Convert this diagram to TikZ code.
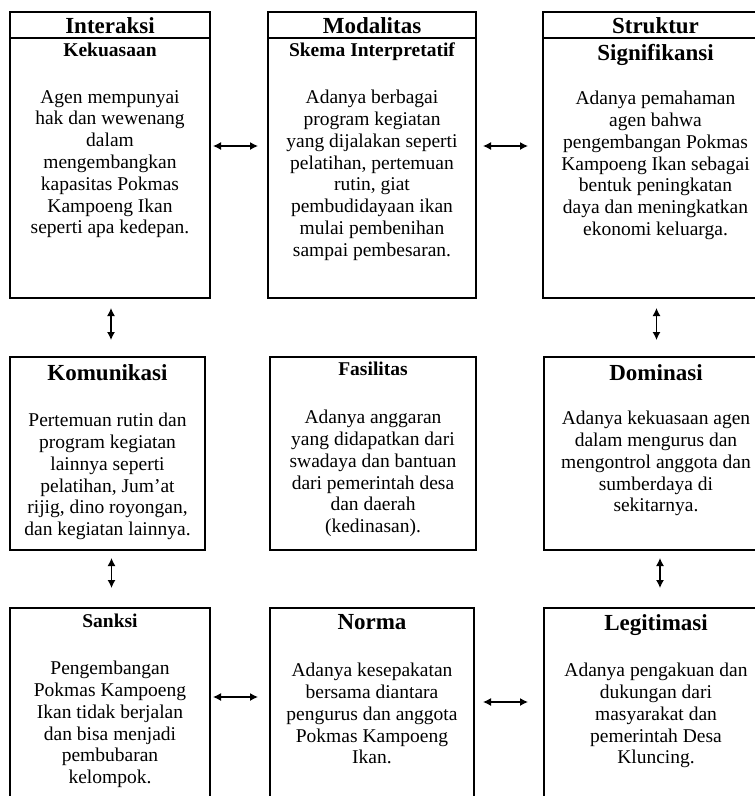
\documentclass[tikz,border=0pt]{standalone}
\usepackage{fontspec}
\setmainfont{Liberation Serif}
\usetikzlibrary{positioning,arrows.meta}

\begin{document}
\begin{tikzpicture}[x=1pt,y=-1pt,
    box/.style={draw, line width=1.3pt, outer sep=0, inner sep=0, anchor=north west},
    big/.style={font=\bfseries\fontsize{23}{26}\selectfont, inner sep=0},
    small/.style={font=\bfseries\fontsize{19.5}{22}\selectfont, inner sep=0},
    isi/.style={align=center, inner sep=0, font=\fontsize{19.5}{21.8}\selectfont},
    link/.style={{Latex[length=8pt,width=8pt]}-{Latex[length=8pt,width=8pt]}, line width=1.3pt}
  ]
  \clip (0,0) rectangle (755,796);
  % boxes
  \node[box, minimum width=200pt, minimum height=286pt] (a1) at (10,12) {};
  \node[box, minimum width=208pt, minimum height=286pt] (b1) at (268,12) {};
  \node[box, minimum width=225pt, minimum height=286pt] (c1) at (543,12) {};
  \node[box, minimum width=195pt, minimum height=193pt] (a2) at (10,357) {};
  \node[box, minimum width=206pt, minimum height=193pt] (b2) at (270,357) {};
  \node[box, minimum width=224pt, minimum height=193pt] (c2) at (544,357) {};
  \node[box, minimum width=200pt, minimum height=222pt] (a3) at (10,608) {};
  \node[box, minimum width=204pt, minimum height=222pt] (b3) at (270,608) {};
  \node[box, minimum width=224pt, minimum height=222pt] (c3) at (544,608) {};
  \foreach \b in {a1,b1,c1}
    \draw[line width=1.3pt] ([yshift=-26pt]\b.north west) -- ([yshift=-26pt]\b.north east);

  % row 1
  \node[big, below=5pt of a1.north] (a1h) {Interaksi};
  \node[big, below=5pt of b1.north] (b1h) {Modalitas};
  \node[big, below=5pt of c1.north] (c1h) {Struktur};
  \node[small, below=31pt of a1.north] (a1t) {Kekuasaan};
  \node[small, below=31pt of b1.north] (b1t) {Skema Interpretatif};
  \node[big, below=32pt of c1.north] (c1t) {Signifikansi};
  \node[isi, below=78pt of a1.north] (a1x) {Agen mempunyai\\hak dan wewenang\\dalam\\mengembangkan\\kapasitas Pokmas\\Kampoeng Ikan\\seperti apa kedepan.};
  \node[isi, below=78pt of b1.north] (b1x) {Adanya berbagai\\program kegiatan\\yang dijalakan seperti\\pelatihan, pertemuan\\rutin, giat\\pembudidayaan ikan\\mulai pembenihan\\sampai pembesaran.};
  \node[isi, below=79pt of c1.north] (c1x) {Adanya pemahaman\\agen bahwa\\pengembangan Pokmas\\Kampoeng Ikan sebagai\\bentuk peningkatan\\daya dan meningkatkan\\ekonomi keluarga.};

  % row 2
  \node[big, below=7pt of a2.north] (a2t) {Komunikasi};
  \node[small, below=4.5pt of b2.north] (b2t) {Fasilitas};
  \node[big, below=7pt of c2.north] (c2t) {Dominasi};
  \node[isi, below=56pt of a2.north] (a2x) {Pertemuan rutin dan\\program kegiatan\\lainnya seperti\\pelatihan, Jum’at\\rijig, dino royongan,\\dan kegiatan lainnya.};
  \node[isi, below=53pt of b2.north] (b2x) {Adanya anggaran\\yang didapatkan dari\\swadaya dan bantuan\\dari pemerintah desa\\dan daerah\\(kedinasan).};
  \node[isi, below=54pt of c2.north] (c2x) {Adanya kekuasaan agen\\dalam mengurus dan\\mengontrol anggota dan\\sumberdaya di\\sekitarnya.};

  % row 3
  \node[small, below=5.5pt of a3.north] (a3t) {Sanksi};
  \node[big, below=6pt of b3.north] (b3t) {Norma};
  \node[big, below=6pt of c3.north] (c3t) {Legitimasi};
  \node[isi, below=53pt of a3.north] (a3x) {Pengembangan\\Pokmas Kampoeng\\Ikan tidak berjalan\\dan bisa menjadi\\pembubaran\\kelompok.};
  \node[isi, below=55pt of b3.north] (b3x) {Adanya kesepakatan\\bersama diantara\\pengurus dan anggota\\Pokmas Kampoeng\\Ikan.};
  \node[isi, below=55pt of c3.north] (c3x) {Adanya pengakuan dan\\dukungan dari\\masyarakat dan\\pemerintah Desa\\Kluncing.};

  % arrows
  \draw[link, shorten <=3pt, shorten >=10pt] ([yshift=9pt]a1.east) -- ([yshift=9pt]b1.west);
  \draw[link, shorten <=7pt, shorten >=15pt] ([yshift=9pt]b1.east) -- ([yshift=9pt]c1.west);
  \draw[link, shorten <=3pt, shorten >=12pt] ([yshift=22pt]a3.east) -- ([yshift=22pt]b3.west);
  \draw[link, shorten <=9pt, shorten >=16pt] ([yshift=17pt]b3.east) -- ([yshift=17pt]c3.west);
  \foreach \u/\v in {a1/a2,c1/c2}
    \draw[link, shorten <=10pt, shorten >=17pt] ([xshift=1pt]\u.south) -- ([xshift=1pt]\u.south |- \v.north);
  \foreach \u/\v in {a2/a3,c2/c3}
    \draw[link, shorten <=8pt, shorten >=20pt] ([xshift=4pt]\u.south) -- ([xshift=4pt]\u.south |- \v.north);
\end{tikzpicture}
\end{document}
